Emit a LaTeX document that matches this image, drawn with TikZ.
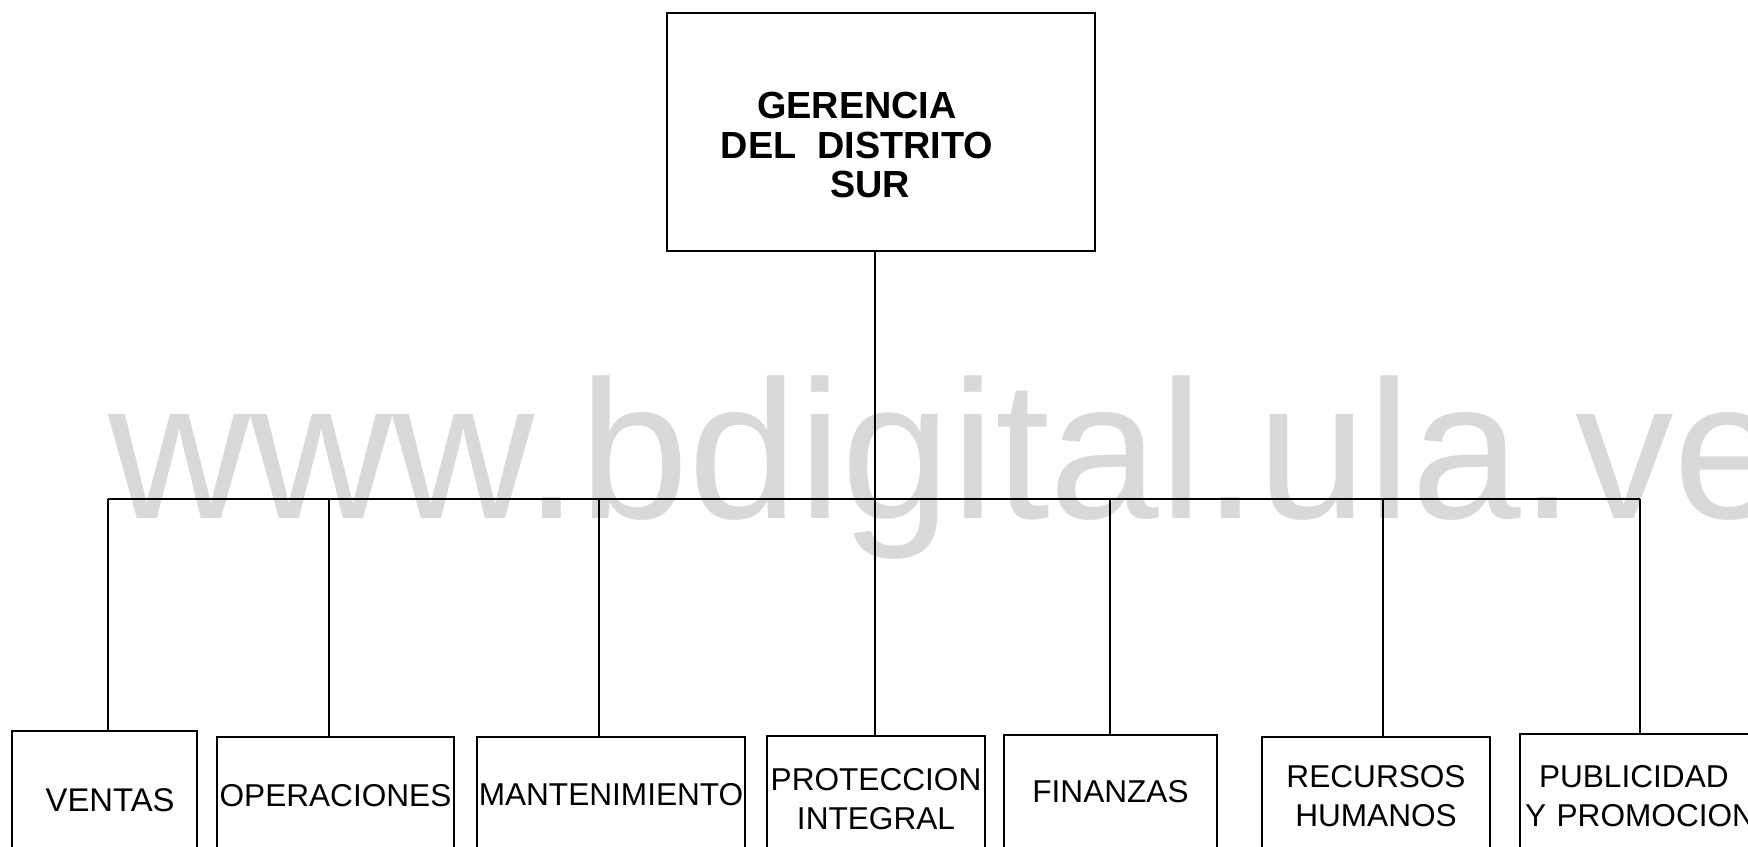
\documentclass[tikz,border=0pt]{standalone}
\usepackage{fontspec}
\setmainfont{Liberation Sans}
\begin{document}
\begin{tikzpicture}[x=0.5pt,y=-0.5pt,
  box/.style={draw=black, line width=1.0pt, rectangle, inner xsep=0pt, inner ysep=0pt,
              font=\fontsize{15.8pt}{19.5pt}\selectfont, align=center},
  link/.style={draw=black, line width=1.1pt},
  wmark/.style={text=black!15, font=\fontsize{98.5pt}{100pt}\selectfont, inner sep=0pt, anchor=base west}]
\useasboundingbox (0,0) rectangle (1748,846);
\clip (0,0) rectangle (1748,846);
\fill[white] (0,0) rectangle (1748,846);
% watermark
\node[wmark] (wm) at (108,518) {www.bdigital.ula.ve};
% top box
\node[box, minimum width=214pt, minimum height=119pt] (ger) at (881,132) {};
\node[font=\bfseries\fontsize{18.9pt}{19.75pt}\selectfont, align=center, inner sep=0pt] (gert) at (857,145)
  {GERENCIA\\DEL\ \ DISTRITO\\\hspace*{13pt}SUR};
% bottom boxes
\node[box, minimum width=92.5pt, minimum height=69pt] (ven) at (104.5,800)
  {\hspace*{5.6pt}\fontsize{16.4pt}{19.5pt}\selectfont VENTAS};
\node[box, minimum width=118.5pt, minimum height=59pt] (ope) at (335.5,796) {OPERACIONES};
\node[box, minimum width=134pt, minimum height=58pt] (man) at (611,795) {MANTENIMIENTO};
\node[box, minimum width=109pt, minimum height=63pt] (pro) at (876,799) {PROTECCION\\INTEGRAL};
\node[box, minimum width=106.5pt, minimum height=56.5pt] (fin) at (1110.5,791.5) {FINANZAS};
\node[box, minimum width=114pt, minimum height=59.5pt] (rec) at (1376,796.5) {RECURSOS\\HUMANOS};
\node[box, anchor=north west, minimum width=150pt, minimum height=62pt, inner xsep=2.5pt,
      text width=145pt, align=left] (pub) at (1519,733) {\hspace*{7pt}PUBLICIDAD\\Y PROMOCION};
% connectors
\coordinate (d1) at (108,499);
\coordinate (d2) at (329,499);
\coordinate (d3) at (599,499);
\coordinate (d4) at (875,499);
\coordinate (d5) at (1110,499);
\coordinate (d6) at (1383,499);
\coordinate (d7) at (1640,499);
\draw[link] (d1) -- (d7);
\draw[link] (ger.south -| d4) -- (d4 |- pro.north);
\draw[link] (d1) -- (d1 |- ven.north);
\draw[link] (d2) -- (d2 |- ope.north);
\draw[link] (d3) -- (d3 |- man.north);
\draw[link] (d5) -- (d5 |- fin.north);
\draw[link] (d6) -- (d6 |- rec.north);
\draw[link] (d7) -- (d7 |- pub.north);
\end{tikzpicture}
\end{document}
